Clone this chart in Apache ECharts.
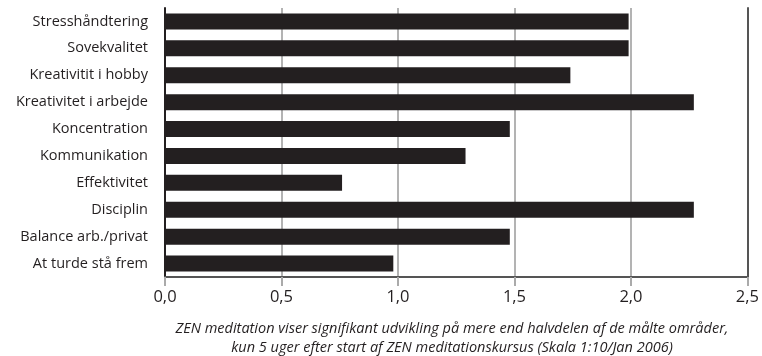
<!DOCTYPE html>
<html lang="da">
<head>
    <meta charset="UTF-8">
    <title>ZEN meditation</title>
    <script src="https://cdn.jsdelivr.net/npm/echarts@6/dist/echarts.min.js"></script>
</head>
<body style="margin:0;">
<div id="chart" style="width:762px;height:356px;"></div>
<script type="text/javascript">
    // kategorier, oppefra og ned
    var categories = [
        'Stresshåndtering', 'Sovekvalitet', 'Kreativitit i hobby', 'Kreativitet i arbejde',
        'Koncentration', 'Kommunikation', 'Effektivitet', 'Disciplin',
        'Balance arb./privat', 'At turde stå frem'
    ];
    var values = [1.99, 1.99, 1.74, 2.27, 1.48, 1.29, 0.76, 2.27, 1.48, 0.98];
    var captionLines = [
        'ZEN meditation viser signifikant udvikling på mere end halvdelen af de målte områder,',
        'kun 5 uger efter start af ZEN meditationskursus (Skala 1:10/Jan 2006)'
    ];

    var ink = '#231f20';
    var font = '"Open Sans", sans-serif';
    var chart = echarts.init(document.getElementById('chart'));

    var option = {
        backgroundColor: '#fff',
        animation: false,
        title: {
            text: captionLines.join('\n'),
            left: 452,
            top: 319,
            padding: 0,
            textAlign: 'center',
            textStyle: {
                color: ink,
                fontFamily: font,
                fontStyle: 'italic',
                fontWeight: 'normal',
                fontSize: 14.5,
                lineHeight: 19
            }
        },
        grid: {left: 165, right: 13, top: 8, bottom: 79},
        xAxis: {
            type: 'value',
            min: 0,
            max: 2.5,
            interval: 0.5,
            axisLine: {show: true, lineStyle: {color: '#555', width: 2}},
            axisTick: {show: true, length: 9, lineStyle: {color: '#aaa', width: 2}},
            splitLine: {show: true, lineStyle: {color: '#b3b3b3', width: 2}},
            axisLabel: {
                color: ink,
                fontFamily: font,
                fontSize: 16.5,
                margin: 12,
                formatter: function (v) { return v.toFixed(1).replace('.', ','); }
            }
        },
        yAxis: [
            {
                type: 'category',
                data: categories,
                inverse: true,
                axisLine: {show: true, lineStyle: {color: ink, width: 2}},
                axisTick: {show: false},
                axisLabel: {color: ink, fontFamily: font, fontSize: 14.5, margin: 17}
            },
            {
                type: 'category',
                data: categories,
                inverse: true,
                position: 'right',
                axisLine: {show: true, lineStyle: {color: '#555', width: 2}},
                axisTick: {show: false},
                axisLabel: {show: false}
            }
        ],
        series: [
            {
                type: 'bar',
                data: values,
                barWidth: 16,
                itemStyle: {color: ink},
                silent: true
            }
        ]
    };
    chart.setOption(option);
</script>
</body>
</html>
